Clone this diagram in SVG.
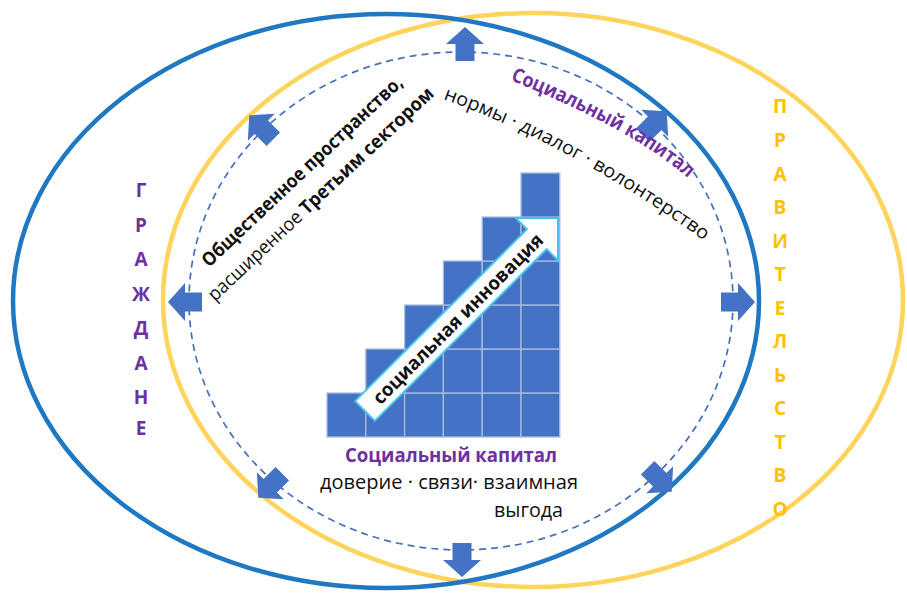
<svg xmlns="http://www.w3.org/2000/svg" xmlns:xlink="http://www.w3.org/1999/xlink" width="907" height="594" viewBox="0 0 907 594">
<style>
  .t { font-family: "Open Sans", "Noto Sans", "Liberation Sans", sans-serif; }
  .b { font-weight: bold; }
  .purple { fill: #7030A0; }
  .gold { fill: #FFC000; }
  .black { fill: #111111; }
  .cell { fill: #4472C4; stroke: #A9BCE0; stroke-width: 1.3; }
  .arr { fill: #4472C4; }
  .ring { fill: none; stroke: #4A6FBA; stroke-width: 1.7; stroke-dasharray: 7 5; }
</style>
<defs>
  <path id="arr" d="M-16,-9.5 H1 V-19 L18,0 L1,19 V9.5 H-16 Z"/>
  <path id="pSoc" d="M510,80 Q635,130.6 689,179"/>
  <path id="pNorm" d="M443,99 Q572,145 703,240"/>
</defs>
<rect width="907" height="594" fill="#FFFFFF"/>

<g id="government">
  <ellipse cx="533" cy="300" rx="370" ry="287" fill="none" stroke="#FFD45C" stroke-width="4.5"/>
  <g class="t b gold" font-size="19" text-anchor="middle">
    <text x="780" y="113">П</text>
    <text x="780" y="147">Р</text>
    <text x="780" y="181">А</text>
    <text x="780" y="214">В</text>
    <text x="780" y="248">И</text>
    <text x="780" y="281">Т</text>
    <text x="780" y="315">Е</text>
    <text x="780" y="348">Л</text>
    <text x="780" y="382">Ь</text>
    <text x="780" y="415">С</text>
    <text x="780" y="449">Т</text>
    <text x="780" y="482">В</text>
    <text x="780" y="516">О</text>
  </g>
</g>

<g id="citizens">
  <ellipse cx="386" cy="301" rx="373" ry="287" fill="none" stroke="#1F78C1" stroke-width="4.5"/>
  <g class="t b purple" font-size="19" text-anchor="middle">
    <text x="141" y="197">Г</text>
    <text x="141" y="232">Р</text>
    <text x="141" y="266">А</text>
    <text x="141" y="301">Ж</text>
    <text x="141" y="335">Д</text>
    <text x="141" y="370">А</text>
    <text x="141" y="404">Н</text>
    <text x="141" y="435">Е</text>
  </g>
</g>

<g id="public-space-ring">
  <ellipse class="ring" cx="461" cy="301" rx="272" ry="249"/>
</g>

<g id="connectors">
  <use href="#arr" class="arr" transform="translate(465,45) rotate(-90)"/>
  <use href="#arr" class="arr" transform="translate(462,559) rotate(90)"/>
  <use href="#arr" class="arr" transform="translate(186,302) rotate(180)"/>
  <use href="#arr" class="arr" transform="translate(737,302)"/>
  <use href="#arr" class="arr" transform="translate(262,128) rotate(-135)"/>
  <use href="#arr" class="arr" transform="translate(654,124) rotate(-45)"/>
  <use href="#arr" class="arr" transform="translate(271,485) rotate(135)"/>
  <use href="#arr" class="arr" transform="translate(659,479) rotate(45)"/>
</g>

<g id="staircase">
  <rect class="cell" x="327" y="393" width="38.8" height="44"/>
  <rect class="cell" x="365.8" y="393" width="38.8" height="44"/>
  <rect class="cell" x="365.8" y="349" width="38.8" height="44"/>
  <rect class="cell" x="404.6" y="393" width="38.8" height="44"/>
  <rect class="cell" x="404.6" y="349" width="38.8" height="44"/>
  <rect class="cell" x="404.6" y="305" width="38.8" height="44"/>
  <rect class="cell" x="443.4" y="393" width="38.8" height="44"/>
  <rect class="cell" x="443.4" y="349" width="38.8" height="44"/>
  <rect class="cell" x="443.4" y="305" width="38.8" height="44"/>
  <rect class="cell" x="443.4" y="261" width="38.8" height="44"/>
  <rect class="cell" x="482.2" y="393" width="38.8" height="44"/>
  <rect class="cell" x="482.2" y="349" width="38.8" height="44"/>
  <rect class="cell" x="482.2" y="305" width="38.8" height="44"/>
  <rect class="cell" x="482.2" y="261" width="38.8" height="44"/>
  <rect class="cell" x="482.2" y="217" width="38.8" height="44"/>
  <rect class="cell" x="521" y="393" width="38.8" height="44"/>
  <rect class="cell" x="521" y="349" width="38.8" height="44"/>
  <rect class="cell" x="521" y="305" width="38.8" height="44"/>
  <rect class="cell" x="521" y="261" width="38.8" height="44"/>
  <rect class="cell" x="521" y="217" width="38.8" height="44"/>
  <rect class="cell" x="521" y="173" width="38.8" height="44"/>
</g>

<g id="social-innovation" transform="translate(558,218) rotate(-45)">
  <path d="M-273,-14 H-30 V-30 L0,0 L-30,30 V14 H-273 Z" fill="#FFFFFF" stroke="#45C1EE" stroke-width="2"/>
  <text class="t b black" x="-142" y="7" font-size="19" text-anchor="middle" textLength="232" lengthAdjust="spacingAndGlyphs">социальная инновация</text>
</g>

<g id="public-space-label">
  <text class="t b black" font-size="19" text-anchor="middle" transform="translate(306.5,176) rotate(-43.3)" textLength="268" lengthAdjust="spacingAndGlyphs">Общественное пространство,</text>
  <text class="t black" font-size="19" text-anchor="middle" transform="translate(325,198.5) rotate(-43.25)" textLength="302" lengthAdjust="spacingAndGlyphs">расширенное <tspan class="b">Третьим сектором</tspan></text>
</g>

<g id="social-capital-norms">
  <text class="t b purple" font-size="20"><textPath href="#pSoc" textLength="204" lengthAdjust="spacingAndGlyphs">Социальный капитал</textPath></text>
  <text class="t black" font-size="19"><textPath href="#pNorm" textLength="298" lengthAdjust="spacingAndGlyphs">нормы · диалог · волонтерство</textPath></text>
</g>

<g id="social-capital-trust">
  <text class="t b purple" x="451" y="462" font-size="20" text-anchor="middle" textLength="212" lengthAdjust="spacingAndGlyphs">Социальный капитал</text>
  <text class="t black" x="320" y="489" font-size="20" textLength="258" lengthAdjust="spacingAndGlyphs">доверие · связи· взаимная</text>
  <text class="t black" x="494" y="517" font-size="20" textLength="69" lengthAdjust="spacingAndGlyphs">выгода</text>
</g>
</svg>
